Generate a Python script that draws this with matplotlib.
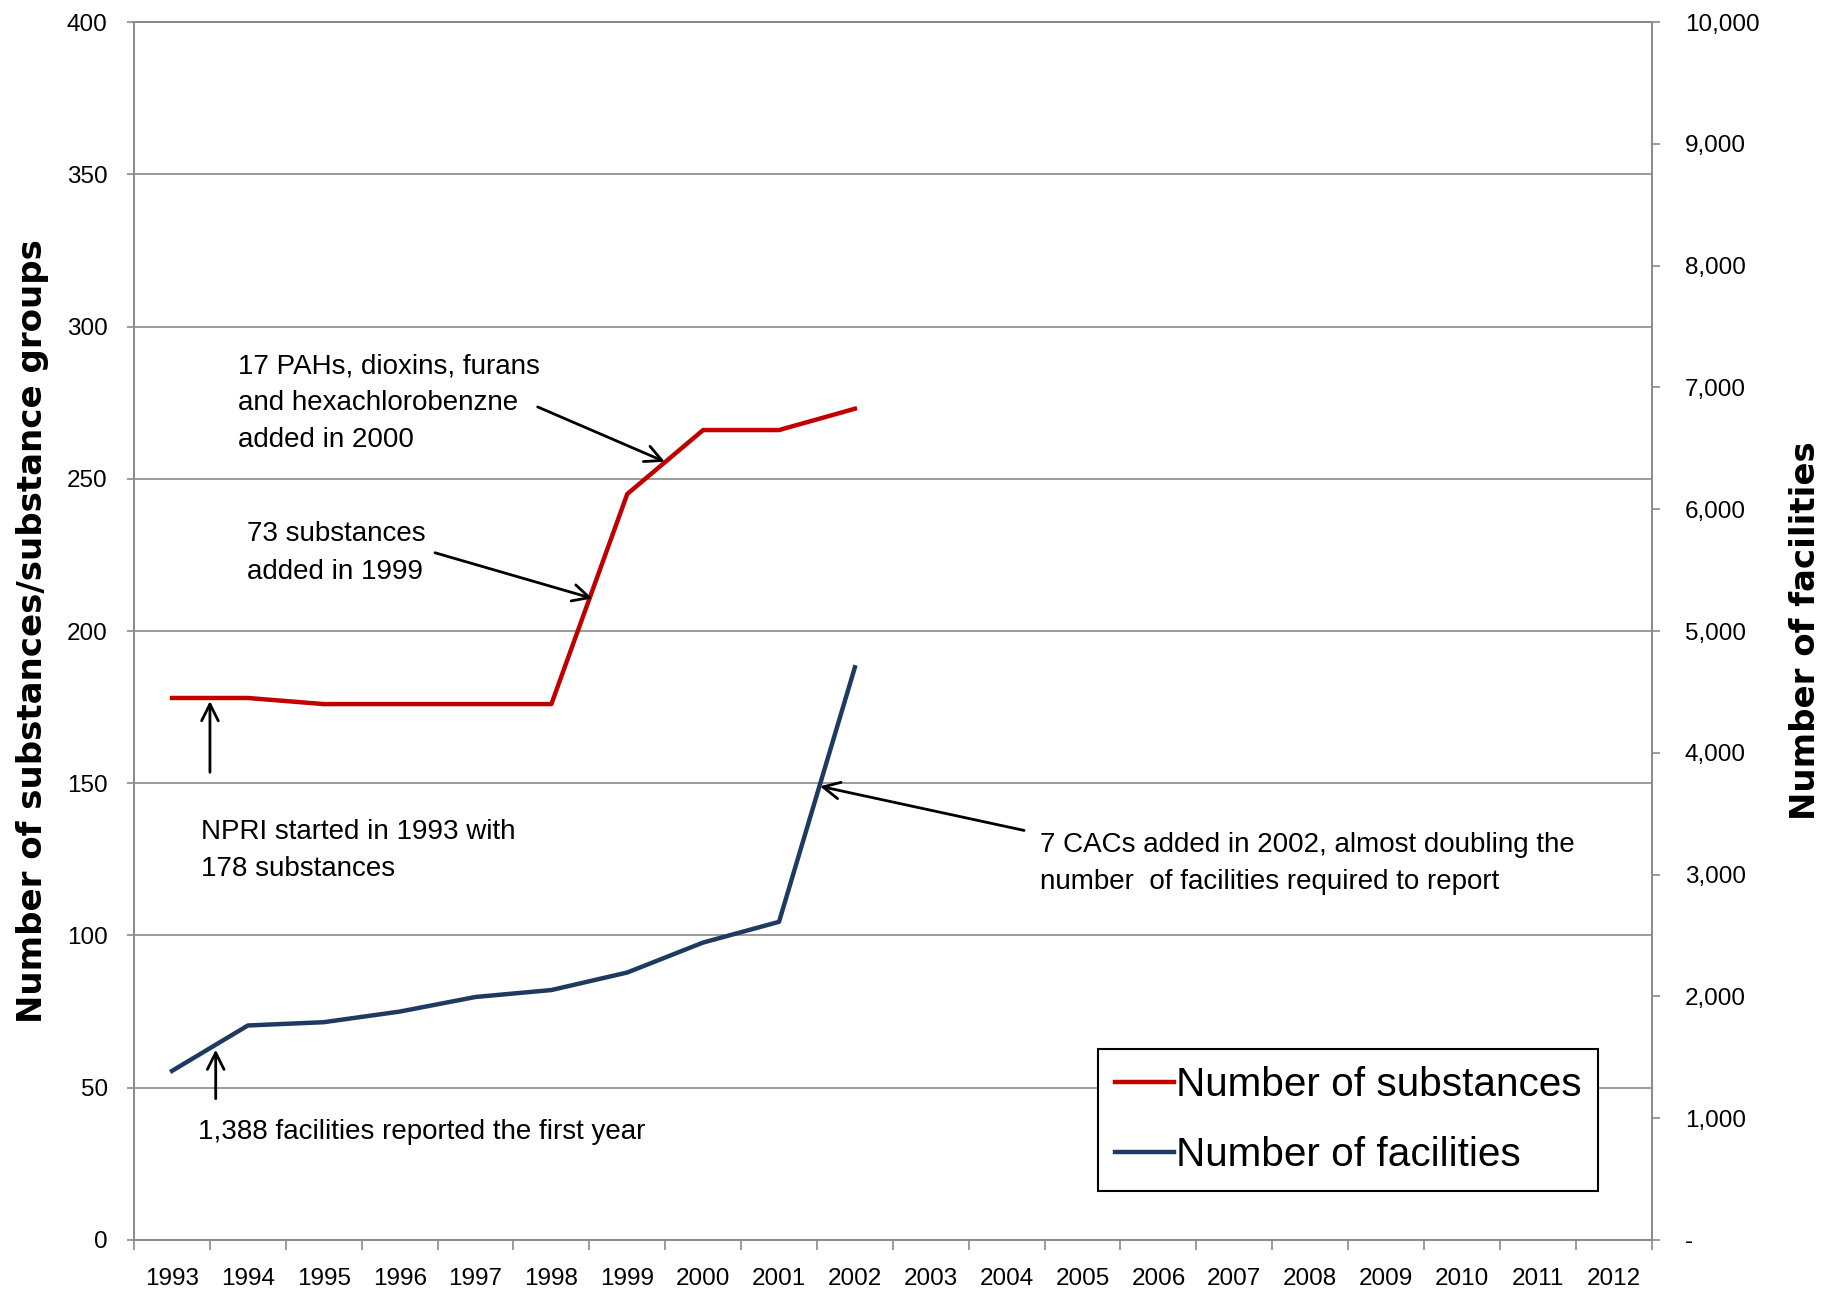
# NPRI substances and facilities over time

import numpy
import matplotlib
matplotlib.use('Agg')
import matplotlib.pyplot as plt
from matplotlib.ticker import FuncFormatter

plt.rcParams['font.family'] = ['Liberation Sans', 'DejaVu Sans']

years = [str(y) for y in range(1993, 2013)]
substances = [178, 178, 176, 176, 176, 176, 245, 266, 266, 273]
facilities = [1388, 1761, 1788, 1875, 1995, 2052, 2196, 2442, 2612, 4702]

red = '#C00000'
blue = '#1F3A60'
grey = '#8a8a8a'

fig = plt.figure(figsize=(18.29, 12.9), dpi=100)
ax = fig.add_axes([0.0733, 0.0388, 0.8297, 0.9441])
ax2 = ax.twinx()

x = numpy.arange(len(substances))
ax.plot(x, substances, color=red, lw=3.2, label='Number of substances')
ax2.plot(x, facilities, color=blue, lw=3.2, label='Number of facilities')

# Axes ranges
ax.set_xlim(-0.5, len(years) - 0.5)
ax.set_ylim(0, 400)
ax2.set_ylim(0, 10000)

# x axis: labels centred, ticks on the boundaries
ax.set_xticks(numpy.arange(len(years)))
ax.set_xticklabels(years)
ax.set_xticks(numpy.arange(len(years) + 1) - 0.5, minor=True)
ax.tick_params(axis='x', which='major', length=0, pad=20, labelsize=17.5)
ax.tick_params(axis='x', which='minor', length=7, width=1.2, color=grey, direction='out')

ax.set_yticks(numpy.arange(0, 401, 50))
ax.tick_params(axis='y', length=5, width=1.2, color=grey, pad=14, labelsize=17.5)
ax.yaxis.grid(True, color=grey, lw=1.2)
ax.set_axisbelow(True)

ax2.set_yticks(numpy.arange(0, 10001, 1000))
ax2.yaxis.set_major_formatter(FuncFormatter(lambda v, p: '-' if v == 0 else '{:,}'.format(int(v))))
ax2.tick_params(axis='y', length=6, width=1.2, color=grey, pad=18, labelsize=17.5)

for a in (ax, ax2):
    for s in a.spines.values():
        s.set_color(grey)
        s.set_linewidth(1.2)

# Axis titles
fig.text(0.0175, 0.511, 'Number of substances/substance groups', rotation=90,
         ha='center', va='center', fontsize=24.5, fontweight='bold', family='DejaVu Sans')
fig.text(0.9874, 0.511, 'Number of facilities', rotation=90,
         ha='center', va='center', fontsize=24.5, fontweight='bold', family='DejaVu Sans')

# Annotations
arrow = dict(arrowstyle='->', lw=2.0, color='black', mutation_scale=30, shrinkA=0, shrinkB=0)
tsize = 20
lsp = 1.56

ax.text(0.376, 138.3, 'NPRI started in 1993 with\n178 substances', ha='left', va='top',
        fontsize=tsize, linespacing=lsp)
ax.annotate('', xy=(0.5, 177), xytext=(0.5, 153.6), arrowprops=arrow)

ax.text(0.345, 35.6, '1,388 facilities reported the first year', ha='left', va='center',
        fontsize=tsize)
ax.annotate('', xy=(0.576, 62.5), xytext=(0.576, 46.4), arrowprops=arrow)

ax.text(0.99, 236, '73 substances\nadded in 1999', ha='left', va='top',
        fontsize=tsize, linespacing=lsp)
ax.annotate('', xy=(5.541, 210.7), xytext=(3.466, 225.7), arrowprops=arrow)

ax.text(0.868, 291.3, '17 PAHs, dioxins, furans\nand hexachlorobenzne\nadded in 2000', ha='left',
        va='top', fontsize=tsize, linespacing=lsp)
ax.annotate('', xy=(6.495, 255.6), xytext=(4.819, 273.6), arrowprops=arrow)

ax.text(11.445, 134.1, '7 CACs added in 2002, almost doubling the\nnumber  of facilities required to report',
        ha='left', va='top', fontsize=tsize, linespacing=lsp)
ax.annotate('', xy=(8.54, 149.0), xytext=(11.23, 134.5), arrowprops=arrow)

# Legend
h1, l1 = ax.get_legend_handles_labels()
h2, l2 = ax2.get_legend_handles_labels()
leg = ax2.legend(h1 + h2, l1 + l2, loc='lower left', bbox_to_anchor=(0.635, 0.040),
                 fontsize=29.2, handlelength=1.45, handletextpad=0.05, labelspacing=0.8,
                 borderpad=0.42, borderaxespad=0, fancybox=False, framealpha=1)
leg.get_frame().set_edgecolor('black')
leg.get_frame().set_linewidth(1.5)

fig.savefig('out.png', dpi=100, facecolor='white')
